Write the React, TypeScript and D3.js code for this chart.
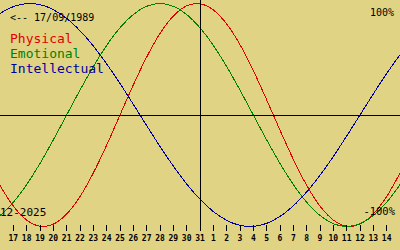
import React from "react";
import * as d3 from "d3";

const W = 400;
const H = 250;

// day offsets relative to 31/12/2025 (first and last points run past the edges)
const dayOffsets = [
  -16, -15, -14, -13, -12, -11, -10, -9, -8, -7, -6, -5, -4, -3, -2, -1, 0, 1, 2, 3, 4, 5, 6, 7, 8, 9, 10,
  11, 12, 13, 14, 15,
];

const physical = [
  -0.398, -0.631, -0.817, -0.942, -0.998, -0.979, -0.888, -0.731, -0.52, -0.27, 0, 0.27, 0.52, 0.731, 0.888,
  0.979, 0.998, 0.942, 0.817, 0.631, 0.398, 0.136, -0.136, -0.398, -0.631, -0.817, -0.942, -0.998, -0.979,
  -0.888, -0.731, -0.52,
];
const emotional = [
  -0.975, -0.901, -0.782, -0.624, -0.434, -0.223, 0, 0.223, 0.434, 0.624, 0.782, 0.901, 0.975, 1, 0.975,
  0.901, 0.782, 0.624, 0.434, 0.223, 0, -0.223, -0.434, -0.624, -0.782, -0.901, -0.975, -1, -0.975, -0.901,
  -0.782, -0.624,
];
const intellectual = [
  0.815, 0.91, 0.972, 0.999, 0.99, 0.945, 0.866, 0.756, 0.618, 0.458, 0.282, 0.095, -0.095, -0.282, -0.458,
  -0.618, -0.756, -0.866, -0.945, -0.99, -0.999, -0.972, -0.91, -0.815, -0.69, -0.541, -0.372, -0.189, 0,
  0.189, 0.372, 0.541,
];

const tickOffsets = [
  -14, -13, -12, -11, -10, -9, -8, -7, -6, -5, -4, -3, -2, -1, 0, 1, 2, 3, 4, 5, 6, 7, 8, 9, 10, 11, 12, 13, 14,
];
const tickLabels = [
  "17", "18", "19", "20", "21", "22", "23", "24", "25", "26", "27", "28", "29", "30", "31",
  "1", "2", "3", "4", "5", "6", "7", "8", "9", "10", "11", "12", "13", "14",
];

const seriesNames = ["Physical", "Emotional", "Intellectual"];
const seriesColors = ["#e00000", "#008000", "#0000a0"];
const seriesData = [physical, emotional, intellectual];

const birthLabel = "<-- 17/09/1989";
const monthLabel = "12-2025";
const topLabel = "100%";
const bottomLabel = "-100%";

const BG = "#e1d384";
const MONO = "'DejaVu Sans Mono', monospace";

export default function App() {
  const x = d3.scaleLinear().domain([-15, 15]).range([0, W]);
  const y = d3.scaleLinear().domain([-1, 1]).range([226.5, 3.5]);

  const line = d3
    .line<number>()
    .x((_, i) => x(dayOffsets[i]))
    .y((v) => y(v))
    .curve(d3.curveCatmullRom);

  const axisY = Math.round(y(0)) + 0.5;
  const todayX = Math.round(x(0)) + 0.5;

  return (
    <svg
      width={W}
      height={H}
      style={{ position: "absolute", left: 0, top: 0, display: "block" }}
      fontFamily={MONO}
    >
      <rect x={0} y={0} width={W} height={H} fill={BG} />
      {seriesData.map((s, k) => (
        <path
          key={seriesNames[k]}
          d={line(s) || ""}
          fill="none"
          stroke={seriesColors[k]}
          strokeWidth={1}
          shapeRendering="crispEdges"
        />
      ))}
      <line x1={0} x2={W} y1={axisY} y2={axisY} stroke="#000" strokeWidth={1} />
      <line x1={todayX} x2={todayX} y1={0} y2={231} stroke="#000" strokeWidth={1} />
      {tickOffsets.map((d, i) => {
        const tx = Math.floor(x(d)) + 0.5;
        return (
          <g key={tickLabels[i]}>
            <line x1={tx} x2={tx} y1={225} y2={231} stroke="#000" strokeWidth={1} />
            <text x={x(d)} y={241} fontSize={8} fontWeight="bold" textAnchor="middle" fill="#000">
              {tickLabels[i]}
            </text>
          </g>
        );
      })}
      <text x={10} y={21} fontSize={10} fill="#000">
        {birthLabel}
      </text>
      {seriesNames.map((n, k) => (
        <text key={n} x={10} y={43 + k * 15} fontSize={13} fill={seriesColors[k]}>
          {n}
        </text>
      ))}
      <text x={394} y={16} fontSize={10} textAnchor="end" fill="#000">
        {topLabel}
      </text>
      <text x={395} y={215} fontSize={10.5} textAnchor="end" fill="#000">
        {bottomLabel}
      </text>
      <text x={0} y={216} fontSize={11} fill="#000">
        {monthLabel}
      </text>
    </svg>
  );
}
